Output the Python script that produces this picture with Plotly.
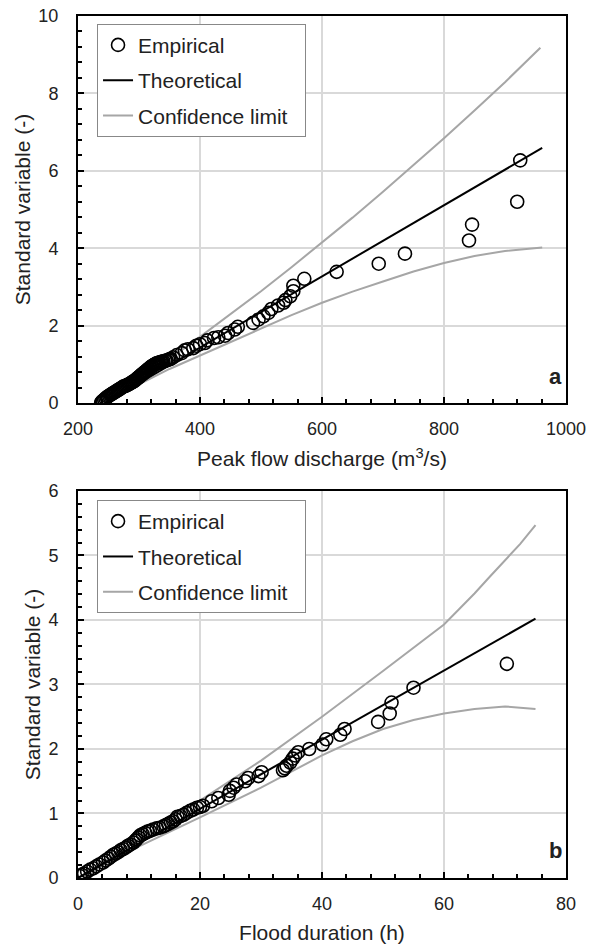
import plotly.graph_objects as go

# ---------------- Panel a : peak flow discharge ----------------
emp_a_x = [925, 920, 846, 841, 736, 693, 624, 571, 553, 553, 548, 540, 537, 528, 517, 512, 504, 496, 487,
           462, 457, 446, 441, 430, 423, 412, 408, 400, 394, 389, 380, 375, 370, 362, 356, 352, 350, 348,
           345, 343, 340, 338, 336, 334, 332, 330, 328, 327, 325, 324, 322, 321, 319, 318, 316, 315, 313, 312,
           310, 309, 307, 306, 304, 303, 301, 300, 298, 297, 295, 294, 292, 290, 289, 287, 285, 283, 281, 279,
           277, 275, 273, 271, 269, 267, 265, 263, 261, 259, 257, 255, 253, 251, 249, 247, 245, 243, 241, 240,
           239, 238]
emp_a_y = [6.27, 5.20, 4.61, 4.20, 3.86, 3.60, 3.39, 3.21, 3.03, 2.89, 2.76, 2.66, 2.59, 2.52, 2.43, 2.33, 2.24, 2.16, 2.07,
           1.97, 1.90, 1.81, 1.74, 1.70, 1.68, 1.62, 1.55, 1.52, 1.48, 1.42, 1.39, 1.36, 1.29, 1.24, 1.18, 1.14, 1.13, 1.12,
           1.10, 1.09, 1.08, 1.07, 1.06, 1.05, 1.04, 1.03, 1.02, 1.01, 0.99, 0.98, 0.96, 0.95, 0.93, 0.91, 0.89, 0.87, 0.85, 0.83,
           0.81, 0.79, 0.77, 0.75, 0.73, 0.71, 0.69, 0.67, 0.65, 0.63, 0.61, 0.59, 0.57, 0.55, 0.54, 0.52, 0.50, 0.48, 0.47, 0.45,
           0.44, 0.43, 0.41, 0.39, 0.37, 0.35, 0.33, 0.31, 0.29, 0.27, 0.25, 0.23, 0.21, 0.19, 0.17, 0.14, 0.12, 0.09, 0.06, 0.04,
           0.03, 0.01]
theo_a_x = [244, 961]
theo_a_y = [0.0, 6.59]
up_a_x = [244, 300, 350, 400, 450, 500, 550, 600, 650, 700, 750, 800, 850, 900, 958]
up_a_y = [0.0, 0.60, 1.14, 1.71, 2.29, 2.89, 3.51, 4.14, 4.79, 5.46, 6.14, 6.84, 7.56, 8.29, 9.18]
lo_a_x = [244, 300, 350, 400, 450, 500, 550, 600, 650, 700, 750, 800, 850, 900, 961]
lo_a_y = [0.0, 0.48, 0.88, 1.23, 1.58, 1.93, 2.27, 2.59, 2.88, 3.14, 3.40, 3.62, 3.80, 3.93, 4.02]

# ---------------- Panel b : flood duration ----------------
emp_b_x = [70.3, 55.0, 51.4, 51.1, 49.2, 43.7, 43.0, 40.7, 40.1, 37.9, 36.1, 35.6, 35.2, 34.8, 34.2, 33.9, 33.6,
           30.1, 29.6, 27.9, 27.4, 26.0, 25.5, 24.9, 24.7, 23.0, 21.9, 20.5, 20.0, 19.5, 18.9, 18.4, 17.8, 17.3,
           16.8, 16.3, 16.0, 15.6, 15.2, 14.8, 14.4, 14.0, 13.4, 12.9, 12.3, 11.8, 11.4, 11.0, 10.6, 10.2, 9.9,
           9.6, 9.4, 9.1, 8.6, 8.2, 7.8, 7.4, 7.0, 6.6, 6.2, 5.8, 5.4, 5.0, 4.5, 4.1, 3.5, 3.0, 2.5, 2.0, 1.5,
           1.0, 0.6, 0.3]
emp_b_y = [3.32, 2.95, 2.72, 2.55, 2.42, 2.31, 2.22, 2.15, 2.07, 2.00, 1.95, 1.90, 1.85, 1.79, 1.74, 1.70, 1.67,
           1.64, 1.58, 1.55, 1.50, 1.45, 1.40, 1.35, 1.29, 1.24, 1.19, 1.12, 1.10, 1.09, 1.06, 1.04, 1.01, 0.98,
           0.96, 0.95, 0.91, 0.88, 0.86, 0.84, 0.82, 0.80, 0.78, 0.77, 0.75, 0.73, 0.72, 0.70, 0.68, 0.66, 0.63,
           0.60, 0.58, 0.55, 0.52, 0.50, 0.47, 0.45, 0.43, 0.40, 0.38, 0.36, 0.33, 0.30, 0.27, 0.24, 0.21, 0.18, 0.15, 0.13, 0.10,
           0.07, 0.05, 0.03]
theo_b_x = [0, 75]
theo_b_y = [0.0, 4.02]
up_b_x = [0, 10, 20, 30, 40, 50, 55, 60, 62.5, 65, 67.5, 70, 72.5, 75]
up_b_y = [0.0, 0.60, 1.20, 1.82, 2.50, 3.21, 3.57, 3.93, 4.17, 4.41, 4.67, 4.92, 5.18, 5.47]
lo_b_x = [0, 10, 20, 30, 40, 45, 50, 55, 60, 65, 70, 75]
lo_b_y = [0.0, 0.49, 0.94, 1.40, 1.90, 2.12, 2.31, 2.45, 2.55, 2.62, 2.66, 2.62]

FONT = "Liberation Sans"
GRAY = "#a6a6a6"
TXT = "#222222"
NB = "\u00a0\u00a0"  # a little trailing room, as in the reference legend box

fig = go.Figure()

def add_panel(xa, ya, leg, ex, ey, tx, ty, ux, uy, lx, ly):
    fig.add_trace(go.Scatter(x=ux, y=uy, mode="lines", line=dict(color=GRAY, width=2),
                             name="Confidence limit" + NB, legend=leg, legendgroup=leg + "c",
                             legendrank=3, xaxis=xa, yaxis=ya))
    fig.add_trace(go.Scatter(x=lx, y=ly, mode="lines", line=dict(color=GRAY, width=2),
                             name="Confidence limit", showlegend=False, legendgroup=leg + "c",
                             xaxis=xa, yaxis=ya))
    fig.add_trace(go.Scatter(x=tx, y=ty, mode="lines", line=dict(color="black", width=2),
                             name="Theoretical", legend=leg, legendgroup=leg + "t",
                             legendrank=2, xaxis=xa, yaxis=ya))
    fig.add_trace(go.Scatter(x=ex, y=ey, mode="markers",
                             marker=dict(symbol="circle-open", size=13, color="black",
                                         line=dict(width=1.6, color="black")),
                             name="Empirical", legend=leg, legendgroup=leg + "e",
                             legendrank=1, xaxis=xa, yaxis=ya))

add_panel("x", "y", "legend", emp_a_x, emp_a_y, theo_a_x, theo_a_y, up_a_x, up_a_y, lo_a_x, lo_a_y)
add_panel("x2", "y2", "legend2", emp_b_x, emp_b_y, theo_b_x, theo_b_y, up_b_x, up_b_y, lo_b_x, lo_b_y)

def axis(rng, dtick, mdtick, domain, anchor, title, standoff, lblstand):
    return dict(range=rng, dtick=dtick, domain=domain, anchor=anchor, automargin=False,
                showline=True, linecolor="black", linewidth=2, mirror=True,
                showgrid=True, gridcolor="#d9d9d9", gridwidth=2,
                ticks="inside", ticklen=6, tickwidth=2, tickcolor="black",
                minor=dict(dtick=mdtick, ticks="inside", ticklen=4, tickwidth=1.5,
                           tickcolor="black", showgrid=False),
                zeroline=False, tickfont=dict(family=FONT, size=18, color=TXT),
                title=dict(text=title, font=dict(family=FONT, size=21, color=TXT),
                           standoff=standoff),
                ticklabelstandoff=lblstand)

legend_style = dict(bgcolor="white", bordercolor="#888888", borderwidth=1,
                    font=dict(family=FONT, size=21, color=TXT),
                    traceorder="grouped", tracegroupgap=5,
                    xanchor="left", yanchor="top")

fig.update_layout(
    width=589, height=948,
    margin=dict(l=78, r=23, t=16, b=70),
    paper_bgcolor="white", plot_bgcolor="white",
    showlegend=True,
    xaxis=axis([200, 1000], 200, 40, [0, 1], "y", "Peak flow discharge (m<sup>3</sup>/s)", 14, 8),
    yaxis=axis([0, 10], 2, 0.4, [0.551, 1], "x", "Standard variable (-)", 2, 14),
    xaxis2=axis([0, 80], 20, 4, [0, 1], "y2", "Flood duration (h)", 13, 8),
    yaxis2=axis([0, 6], 1, 0.2, [0, 0.449], "x2", "Standard variable (-)", 2, 14),
    legend=dict(x=0.039, y=0.991, **legend_style),
    legend2=dict(x=0.039, y=0.4385, **legend_style),
    annotations=[
        dict(text="<b>a</b>", x=0.995, y=0.565, xref="paper", yref="paper",
             xanchor="right", yanchor="bottom", showarrow=False,
             font=dict(family=FONT, size=22, color=TXT)),
        dict(text="<b>b</b>", x=0.995, y=0.015, xref="paper", yref="paper",
             xanchor="right", yanchor="bottom", showarrow=False,
             font=dict(family=FONT, size=22, color=TXT)),
    ],
)

fig.write_html("out.html",
               config={"displayModeBar": False},
               post_script="document.body.style.margin='0';"
                           "document.documentElement.style.overflow='hidden';"
                           "document.body.style.overflow='hidden';")
